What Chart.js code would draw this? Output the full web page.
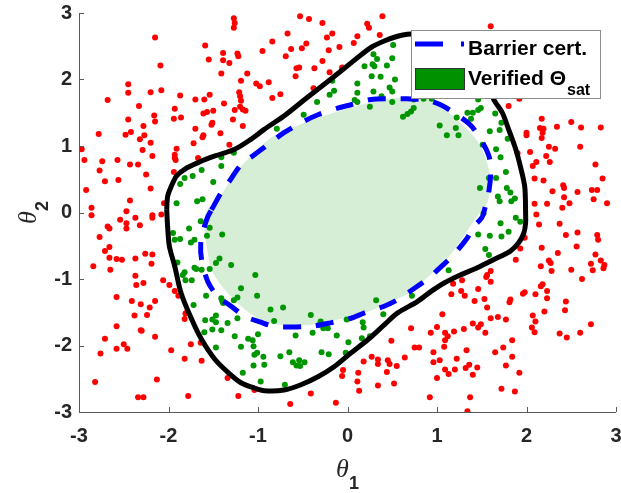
<!DOCTYPE html>
<html>
<head>
<meta charset="utf-8">
<script src="https://cdn.jsdelivr.net/npm/chart.js@4.4.1/dist/chart.umd.min.js"></script>
<style>
  html, body { margin: 0; padding: 0; background: #fff; }
  canvas { display: block; }
</style>
</head>
<body>
<canvas id="mainChart" width="621" height="493"></canvas>
<script>
const tickVals = [-3, -2, -1, 0, 1, 2, 3];

// samples outside the certified region
const unsafePts = [
  [-1.27,2.92],[-1.26,2.85],[-1.27,2.78],[-2.15,2.63],[-1.59,2.51],[-1.39,2.40],[-1.23,2.39],[-1.22,2.35],
  [-1.55,2.30],[-1.39,2.29],[-1.32,2.25],[-2.09,2.21],[-1.41,2.09],[-1.12,2.09],[-2.45,1.93],[-1.19,1.98],
  [-2.45,1.80],[-2.20,1.81],[-2.08,1.84],[-1.87,1.76],[-1.70,1.70],[-1.60,1.70],[-1.54,1.77],[-1.21,1.81],
  [-1.20,1.75],[-1.19,1.68],[-2.68,1.69],[-2.33,1.60],[-1.38,1.64],[-1.93,1.56],[-2.16,1.46],[-1.61,1.49],
  [-1.57,1.51],[-1.50,1.53],[-1.26,1.54],[-1.20,1.59],[-1.17,1.55],[-1.14,1.53],[-2.45,1.40],[-2.15,1.37],
  [-1.94,1.41],[-1.86,1.43],[-1.52,1.32],[-1.51,1.35],[-1.28,1.40],[-2.28,1.30],[-1.17,1.30],[-2.78,1.18],
  [-2.48,1.17],[-2.42,1.21],[-2.27,1.16],[-2.32,1.10],[-2.20,1.05],[-1.70,1.26],[-1.72,1.04],[-1.62,1.13],
  [-1.61,1.16],[-1.42,1.19],[-1.32,1.02],[-2.97,0.95],[-2.29,0.94],[-1.91,0.96],[-2.94,0.79],[-2.74,0.77],
  [-2.57,0.79],[-2.18,0.85],[-1.93,0.87],[-1.93,0.82],[-1.92,0.79],[-1.67,0.82],[-2.43,0.72],[-2.34,0.72],
  [-2.77,0.63],[-2.25,0.57],[-1.94,0.61],[-2.71,0.47],[-2.56,0.49],[-2.92,0.34],[-2.20,0.36],[-2.43,0.18],
  [-2.86,0.07],[-2.05,0.14],
  [-0.53,2.95],[-0.43,2.91],[-0.28,2.85],[0.39,2.95],[0.22,2.84],[0.24,2.78],[-0.67,2.69],[-0.84,2.57],
  [-0.17,2.69],[-0.23,2.63],[0.11,2.65],[0.36,2.67],[-0.95,2.43],[-0.63,2.46],[-0.69,2.35],[-0.51,2.47],
  [-0.46,2.54],[-0.21,2.44],[-0.09,2.49],[0.07,2.55],[-0.28,2.28],[-0.57,2.17],[-0.54,2.18],[-0.37,2.17],
  [-0.58,2.05],[-0.20,2.11],[-0.06,2.18],[-1.02,1.94],[-0.98,1.90],[-0.88,1.96],[-0.84,1.72],[-0.75,1.78],
  [-0.38,1.87],
  [1.60,2.80],[1.92,1.71],[1.80,1.60],[2.17,1.41],[2.15,1.27],[2.19,1.26],[2.18,1.20],[2.17,1.12],
  [2.00,1.20],[2.00,1.16],[2.34,1.29],[2.50,1.36],[2.61,1.28],[2.83,1.28],[2.25,0.99],[2.32,0.96],
  [2.60,0.99],[2.22,0.85],[2.26,0.76],[2.04,0.91],[1.90,0.89],[2.11,0.76],[2.07,0.70],[2.77,0.72],
  [2.09,0.51],[2.19,0.48],[2.85,0.51],[2.41,0.41],[2.42,0.37],[2.57,0.31],[2.73,0.34],[2.79,0.34],
  [2.29,0.32],[2.42,0.23],[2.48,0.14],[2.40,0.07],[2.23,0.13],[2.09,0.13],[2.75,0.20],[2.90,0.14],
  [-2.86,-0.04],[-2.47,0.02],[-2.18,-0.04],[-2.18,-0.08],[-2.37,-0.08],[-2.54,-0.11],[-2.47,-0.16],[-2.47,-0.24],
  [-2.32,-0.19],[-2.68,-0.21],[-2.66,-0.24],[-2.77,-0.37],[-2.08,-0.03],[-2.66,-0.52],[-2.71,-0.58],[-2.66,-0.68],
  [-2.26,-0.62],[-2.18,-0.63],[-2.19,-0.77],[-2.58,-0.70],[-2.52,-0.71],[-2.37,-0.69],[-2.65,-0.86],[-2.84,-0.81],
  [-2.37,-0.95],[-2.36,-1.09],[-2.28,-1.06],[-2.06,-1.02],[-1.99,-1.09],[-1.93,-1.18],[-1.89,-1.25],[-2.58,-1.27],
  [-2.41,-1.33],[-2.31,-1.38],[-2.15,-1.33],[-2.21,-1.43],[-2.24,-1.54],[-2.38,-1.55],[-1.79,-1.49],[-1.82,-1.60],
  [-1.81,-1.52],[-2.58,-1.71],[-2.31,-1.77],[-2.30,-1.78],[-2.15,-1.87],[-2.71,-1.90],[-2.50,-1.98],[-2.46,-2.05],
  [-2.58,-2.05],[-2.76,-2.12],[-1.97,-2.07],[-1.75,-1.98],[-1.64,-1.96],[-1.63,-2.23],[-1.82,-2.20],[-2.82,-2.55],
  [-2.13,-2.51],[-2.34,-2.78],[-2.28,-2.78],[-1.78,-2.76],[-1.34,-2.49],[-1.22,-2.76],
  [0.71,-1.74],[0.49,-1.93],[0.75,-2.03],[0.80,-2.03],[0.27,-2.17],[0.18,-2.24],[0.34,-2.21],[0.34,-2.28],
  [0.45,-2.22],[0.47,-2.28],[0.55,-2.31],[0.64,-2.18],[0.44,-2.40],[-0.05,-2.37],[-0.06,-2.46],[0.12,-2.41],
  [0.11,-2.54],[0.13,-2.68],[0.34,-2.60],[0.52,-2.57],[-0.41,-2.72],[-0.64,-2.88],[-0.13,-2.86],[-1.04,-2.67],
  [2.11,-0.03],[2.14,-0.18],[2.37,-0.17],[1.98,-0.38],[2.44,-0.34],[2.57,-0.30],[2.79,-0.34],[2.80,-0.41],
  [2.56,-0.51],[2.17,-0.53],[1.93,-0.54],[2.35,-0.61],[1.88,-0.71],[2.25,-0.72],[2.27,-0.76],[2.28,-0.88],
  [2.16,-0.81],[2.77,-0.63],[2.83,-0.72],[2.87,-0.79],[2.86,-0.84],[2.72,-0.77],[2.74,-0.87],[2.50,-0.86],
  [2.62,-1.00],[1.60,-0.88],[1.56,-0.94],[1.55,-0.97],[1.60,-1.04],[1.28,-1.02],[1.18,-1.07],[1.27,-1.18],
  [1.31,-1.25],[1.46,-1.15],[1.16,-1.23],[1.42,-1.33],[1.53,-1.30],[1.56,-1.43],[1.82,-1.31],[1.81,-1.35],
  [1.96,-1.22],[1.98,-1.20],[2.10,-1.23],[2.18,-1.08],[2.16,-1.11],[2.23,-1.18],[2.23,-1.29],[2.20,-1.49],
  [2.44,-1.34],[2.43,-1.47],[2.07,-1.55],[2.10,-1.64],[2.06,-1.73],[2.09,-1.80],[2.72,-1.68],[2.37,-1.82],
  [2.45,-1.88],[2.60,-1.81],[1.06,-1.53],[0.93,-1.81],[1.00,-1.72],[1.09,-1.81],[1.12,-1.86],[1.09,-1.92],
  [1.08,-2.02],[1.19,-1.79],[1.30,-1.75],[1.40,-1.67],[1.46,-1.73],[1.49,-1.68],[1.54,-1.81],[1.60,-1.59],
  [1.68,-1.57],[1.77,-1.61],[1.84,-1.92],[1.74,-2.03],[1.65,-2.10],[1.84,-2.17],[0.96,-2.10],[0.96,-2.25],
  [1.03,-2.22],[1.22,-2.20],[1.33,-2.07],[1.36,-2.29],[1.32,-2.34],[1.45,-2.33],[1.40,-2.44],[1.09,-2.36],
  [1.13,-2.43],[1.20,-2.36],[1.00,-2.49],[1.77,-2.30],[1.92,-2.41],[1.72,-2.65],[1.87,-2.69],[1.37,-2.78],
  [0.92,-2.78],[1.34,-2.99]
];

// samples between the certificate and the verified set
const safePts = [
  [-1.27,0.90],[-1.41,0.83],[-1.41,0.70],[-1.63,0.64],[-1.73,0.55],[-1.82,0.52],[-1.87,0.43],[-1.50,0.46],
  [-1.91,0.14],[-1.68,0.17],[-1.62,0.20],
  [0.51,2.52],[0.29,2.38],[0.33,2.31],[0.50,2.32],[0.19,2.20],[0.28,2.23],[0.30,2.20],[0.44,2.21],
  [0.27,2.05],[0.37,2.04],[0.53,2.00],[-0.17,1.98],[0.11,1.94],[0.47,1.88],[0.50,1.82],[-0.15,1.83],
  [-0.20,1.77],[0.11,1.80],[0.29,1.82],[-0.34,1.66],[0.08,1.69],[0.11,1.66],[0.25,1.59],[0.38,1.75],
  [0.50,1.66],[0.74,1.57],[0.71,1.52],[0.67,1.48],[0.62,1.44],[-0.49,1.47],[-0.79,1.26],
  [0.74,1.70],[0.85,1.71],[0.94,1.71],[1.46,1.70],[1.49,1.57],[1.46,1.54],[1.40,1.50],[1.34,1.50],
  [1.38,1.41],[1.22,1.43],[1.65,1.49],[1.72,1.35],[1.03,1.31],[1.21,1.27],[1.24,1.16],[1.11,1.16],
  [1.59,1.22],[1.70,1.24],[1.79,1.11],[1.51,1.02],[1.66,0.95],[1.71,0.83],[1.77,0.61],[1.66,0.52],
  [1.58,0.52],[1.48,0.37],[1.78,0.37],[1.82,0.30],[1.87,0.21],[1.83,0.17],[1.68,0.24],[1.70,0.17],
  [-1.64,-0.13],[-1.54,-0.23],[-1.77,-0.24],[-1.95,-0.31],[-1.87,-0.40],[-1.93,-0.41],[-1.75,-0.45],[-1.71,-0.41],
  [-1.57,-0.35],[-1.40,-0.33],[-1.90,-0.75],[-1.71,-0.83],[-1.69,-0.85],[-1.63,-0.86],[-1.54,-0.85],[-1.47,-0.76],
  [-1.43,-0.69],[-1.30,-0.79],[-1.82,-0.90],[-1.84,-0.94],[-1.81,-1.02],[-1.74,-1.02],[-1.58,-1.25],[-1.41,-1.29],
  [-1.39,-1.36],[-1.40,-1.33],[-1.27,-1.32],[-1.23,-1.28],[-1.19,-1.14],[-1.72,-1.39],[-1.59,-1.62],[-1.51,-1.61],
  [-1.47,-1.55],[-1.47,-1.65],[-1.34,-1.66],[-1.23,-1.59],[-1.51,-1.76],[-1.41,-1.77],[-1.60,-1.80],[-1.26,-1.86],
  [-1.47,-2.03],[-1.19,-2.02],[-1.11,-1.90],[-1.17,-2.41],
  [-1.03,-0.94],[-1.01,-1.25],[-0.86,-1.46],[-0.72,-1.43],[-0.82,-1.63],[-0.41,-1.54],[-0.30,-1.64],[-0.32,-1.69],
  [-0.27,-1.74],[-0.22,-1.74],[-0.39,-1.81],[-0.01,-1.61],[0.17,-1.65],[0.18,-1.73],[0.32,-1.32],[0.40,-1.53],
  [0.72,-1.25],[-1.00,-1.83],[-1.06,-1.92],[-1.05,-2.01],[-1.01,-2.11],[-1.04,-2.14],[-0.94,-2.17],[-0.93,-2.29],
  [-1.05,-2.30],[-0.58,-1.85],[-0.12,-1.85],[0.01,-1.95],[0.16,-1.89],[0.25,-1.86],[-0.75,-2.16],[-0.65,-2.10],
  [-0.29,-2.10],[-0.21,-2.13],[-0.02,-2.11],[-0.54,-2.22],[-0.48,-2.25],[-0.57,-2.30],[-0.53,-2.31],[-0.61,-2.25],
  [-0.97,-2.54],[-0.70,-2.59],
  [1.52,-0.01],[1.88,-0.08],[1.93,-0.14],[1.71,-0.16],[1.80,-0.29],[1.72,-0.36],[1.59,-0.35],[1.46,-0.33],
  [1.54,-0.55],[1.58,-0.64],[1.13,-0.87]
];

// barrier certificate level set (closed contour)
const barrierCurve = [
  [-2.02,0.04],[-2.01,0.24],[-1.97,0.39],[-1.91,0.55],[-1.82,0.65],[-1.67,0.75],[-1.48,0.85],[-1.26,0.95],
  [-1.08,1.10],[-0.93,1.25],[-0.71,1.45],[-0.45,1.73],[-0.22,1.97],[0.04,2.25],[0.26,2.48],[0.41,2.58],
  [0.56,2.65],[0.67,2.68],[0.86,2.69],[1.08,2.63],[1.30,2.45],[1.47,2.18],[1.58,1.93],[1.63,1.71],
  [1.73,1.50],[1.80,1.25],[1.88,0.95],[1.93,0.70],[1.98,0.39],[1.99,-0.01],[1.99,-0.16],[1.97,-0.31],
  [1.91,-0.46],[1.82,-0.58],[1.63,-0.71],[1.45,-0.83],[1.26,-0.94],[1.08,-1.06],[0.93,-1.19],[0.78,-1.34],
  [0.56,-1.51],[0.41,-1.69],[0.23,-1.91],[0.04,-2.11],[-0.15,-2.32],[-0.33,-2.47],[-0.52,-2.59],[-0.71,-2.67],
  [-0.93,-2.68],[-1.04,-2.64],[-1.19,-2.56],[-1.33,-2.41],[-1.48,-2.21],[-1.63,-1.91],[-1.74,-1.61],[-1.86,-1.21],
  [-1.93,-0.81],[-1.99,-0.51],[-2.01,-0.21]
];

// dashed certificate boundary
const certCurve = [
  [-1.52,0.04],[-1.41,0.30],[-1.33,0.45],[-1.19,0.72],[-1.06,0.85],[-0.86,1.05],[-0.71,1.20],[-0.52,1.35],
  [-0.33,1.47],[-0.11,1.57],[0.04,1.62],[0.26,1.70],[0.49,1.71],[0.67,1.71],[0.89,1.69],[1.04,1.62],
  [1.19,1.50],[1.37,1.32],[1.48,1.12],[1.58,0.85],[1.60,0.60],[1.58,0.32],[1.54,0.09],[1.50,-0.08],
  [1.41,-0.21],[1.34,-0.38],[1.19,-0.63],[1.09,-0.76],[0.91,-0.98],[0.78,-1.11],[0.56,-1.31],[0.41,-1.41],
  [0.19,-1.51],[0.04,-1.59],[-0.19,-1.66],[-0.41,-1.71],[-0.71,-1.72],[-0.86,-1.70],[-0.97,-1.65],[-1.15,-1.56],
  [-1.30,-1.41],[-1.45,-1.26],[-1.56,-1.04],[-1.63,-0.71],[-1.64,-0.46],[-1.61,-0.26],[-1.56,-0.06]
];

// verified Theta_sat region
const satRegion = [
  [-1.58,-0.46],[-1.60,-0.18],[-1.57,0.04],[-1.48,0.14],[-1.37,0.35],[-1.22,0.65],[-1.04,0.90],[-0.86,1.12],
  [-0.63,1.27],[-0.33,1.42],[-0.11,1.52],[0.15,1.62],[0.41,1.70],[0.67,1.74],[0.89,1.74],[1.04,1.60],
  [1.22,1.40],[1.41,1.15],[1.52,0.90],[1.58,0.65],[1.60,0.45],[1.56,0.14],[1.48,0.00],[1.37,-0.21],
  [1.22,-0.51],[1.04,-0.81],[0.89,-0.98],[0.71,-1.19],[0.41,-1.39],[0.19,-1.51],[-0.11,-1.61],[-0.41,-1.69],
  [-0.71,-1.69],[-0.89,-1.66],[-1.04,-1.56],[-1.19,-1.41],[-1.37,-1.16],[-1.52,-0.86]
];

const toXY = pts => pts.map(([x, y]) => ({x, y}));
const closed = pts => toXY(pts.concat([pts[0]]));

const tickFont = {family: '"Liberation Sans", Arial, sans-serif', size: 20, weight: 'bold'};

// axis lines, inward ticks, axis titles and legend box
const decorations = {
  id: 'decorations',
  afterDraw(chart) {
    const {ctx, chartArea: a, scales: {x, y}} = chart;
    ctx.save();
    ctx.strokeStyle = '#5a5a5a';
    ctx.lineWidth = 1;
    ctx.beginPath();
    ctx.moveTo(a.left + 0.5, a.top);
    ctx.lineTo(a.left + 0.5, a.bottom + 0.5);
    ctx.lineTo(a.right, a.bottom + 0.5);
    tickVals.forEach(v => {
      const px = Math.round(x.getPixelForValue(v)) + 0.5;
      ctx.moveTo(px, a.bottom);
      ctx.lineTo(px, a.bottom - 5);
      const py = Math.round(y.getPixelForValue(v)) + 0.5;
      ctx.moveTo(a.left, py);
      ctx.lineTo(a.left + 5, py);
    });
    ctx.stroke();

    // theta with subscript
    const theta = (sub) => {
      ctx.fillStyle = '#262626';
      ctx.font = 'italic 26px "Liberation Serif", "DejaVu Serif", serif';
      const w1 = ctx.measureText('\u03B8').width;
      ctx.font = 'bold 18px "Liberation Sans", Arial, sans-serif';
      const w2 = ctx.measureText(sub).width;
      const x0 = -(w1 + w2) / 2;
      ctx.textBaseline = 'alphabetic';
      ctx.textAlign = 'left';
      ctx.font = 'italic 26px "Liberation Serif", "DejaVu Serif", serif';
      ctx.fillText('\u03B8', x0, 0);
      ctx.font = 'bold 18px "Liberation Sans", Arial, sans-serif';
      ctx.fillText(sub, x0 + w1, 12);
    };
    ctx.save();
    ctx.translate((a.left + a.right) / 2, 477);
    theta('1');
    ctx.restore();
    ctx.save();
    ctx.translate(36, (a.top + a.bottom) / 2);
    ctx.rotate(-Math.PI / 2);
    theta('2');
    ctx.restore();

    // legend
    const lx = 411, ly = 30, lw = 189, lh = 68;
    ctx.fillStyle = '#ffffff';
    ctx.fillRect(lx, ly, lw, lh);
    ctx.strokeStyle = '#8c8c8c';
    ctx.lineWidth = 1;
    ctx.strokeRect(lx + 0.5, ly + 0.5, lw, lh);

    ctx.strokeStyle = '#0000ff';
    ctx.lineWidth = 5;
    ctx.setLineDash([28, 18]);
    ctx.beginPath();
    ctx.moveTo(lx + 4, ly + 14);
    ctx.lineTo(lx + 53, ly + 14);
    ctx.stroke();
    ctx.setLineDash([]);

    ctx.fillStyle = '#009100';
    ctx.fillRect(lx + 4, ly + 38, 49, 21);
    ctx.strokeStyle = '#333333';
    ctx.lineWidth = 1;
    ctx.strokeRect(lx + 4.5, ly + 38.5, 49, 21);

    ctx.fillStyle = '#000000';
    ctx.textAlign = 'left';
    ctx.textBaseline = 'alphabetic';
    ctx.font = 'bold 21px "Liberation Sans", Arial, sans-serif';
    ctx.fillText('Barrier cert.', lx + 57, ly + 25);
    ctx.fillText('Verified \u0398', lx + 57, ly + 55);
    const vw = ctx.measureText('Verified \u0398').width;
    ctx.font = 'bold 16px "Liberation Sans", Arial, sans-serif';
    ctx.fillText('sat', lx + 58 + vw, ly + 65);
    ctx.restore();
  }
};

const ctx = document.getElementById('mainChart').getContext('2d');
const chart = new Chart(ctx, {
  type: 'scatter',
  data: {
    datasets: [
      {
        label: 'Barrier contour',
        data: closed(barrierCurve),
        showLine: true,
        borderColor: '#000000',
        borderWidth: 5,
        tension: 0.3,
        pointRadius: 0,
        fill: false,
        order: 1
      },
      {
        label: 'Barrier cert.',
        data: closed(certCurve),
        showLine: true,
        borderColor: '#0000ff',
        borderWidth: 5,
        borderDash: [18, 15],
        tension: 0.3,
        pointRadius: 0,
        fill: false,
        order: 2
      },
      {
        label: 'unsafe',
        data: toXY(unsafePts),
        pointRadius: 3,
        pointBorderWidth: 0,
        pointBackgroundColor: '#ff0000',
        order: 3
      },
      {
        label: 'safe',
        data: toXY(safePts),
        pointRadius: 3,
        pointBorderWidth: 0,
        pointBackgroundColor: '#009600',
        order: 4
      },
      {
        label: 'Verified',
        data: closed(satRegion),
        showLine: true,
        borderWidth: 0,
        borderColor: 'rgba(0,0,0,0)',
        backgroundColor: '#d6edd6',
        fill: 'shape',
        tension: 0.3,
        pointRadius: 0,
        order: 5
      }
    ]
  },
  options: {
    responsive: false,
    animation: false,
    events: [],
    layout: {padding: {top: 13, right: 5, left: 0, bottom: 0}},
    plugins: {
      legend: {display: false},
      tooltip: {enabled: false}
    },
    scales: {
      x: {
        type: 'linear',
        min: -3,
        max: 3,
        ticks: {stepSize: 1, color: '#262626', font: tickFont, padding: 12, maxRotation: 0},
        grid: {display: false, drawTicks: false},
        border: {display: false},
        afterFit: s => { s.height = 81; s.paddingLeft = 0; s.paddingRight = 0; }
      },
      y: {
        type: 'linear',
        min: -3,
        max: 3,
        ticks: {stepSize: 1, color: '#262626', font: tickFont, padding: 7},
        grid: {display: false, drawTicks: false},
        border: {display: false},
        afterFit: s => { s.width = 79; s.paddingTop = 0; s.paddingBottom = 0; }
      }
    }
  },
  plugins: [decorations]
});
</script>
</body>
</html>
